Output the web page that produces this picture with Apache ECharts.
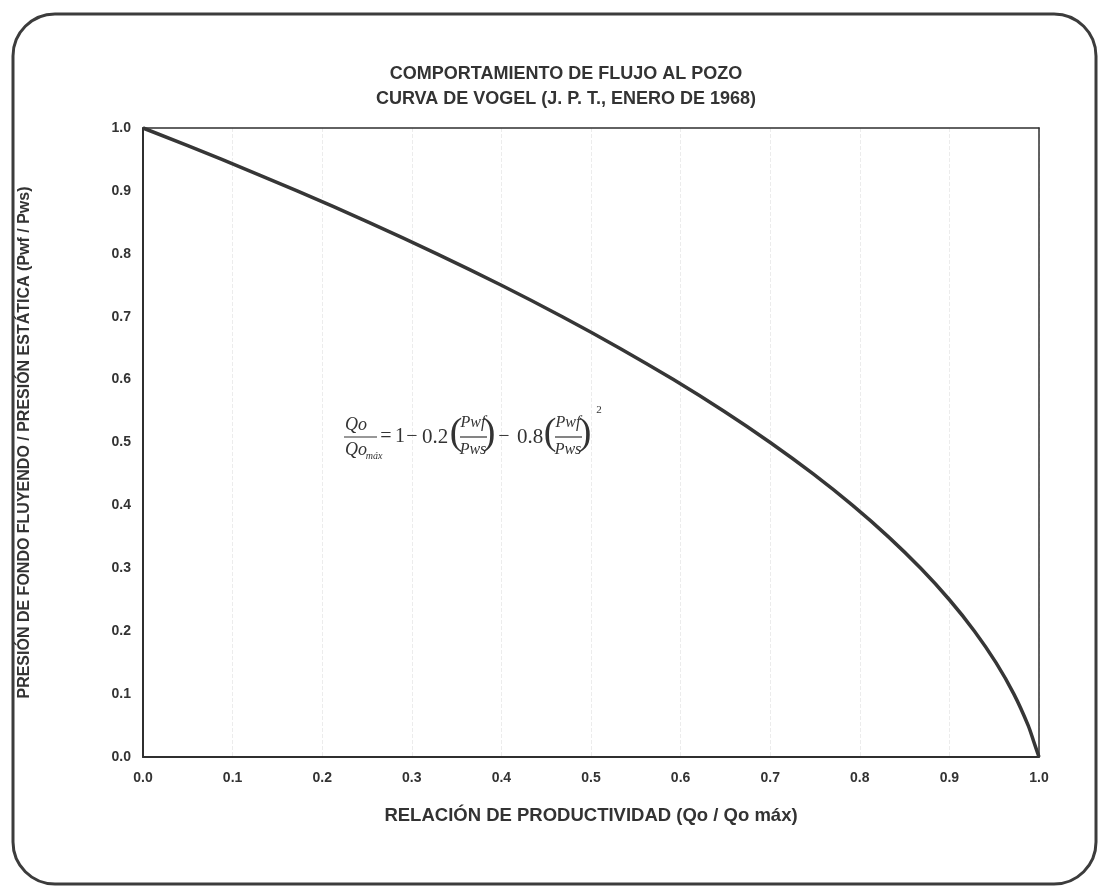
<!DOCTYPE html>
<html>
<head>
<meta charset="utf-8">
<script src="https://cdn.jsdelivr.net/npm/echarts@6/dist/echarts.min.js"></script>
<style>
html,body{margin:0;padding:0;background:#fff;}
#chart{width:1101px;height:889px;}
</style>
</head>
<body>
<div id="chart"></div>
<script>
// Values (Qo/Qomax vs Pwf/Pws)
const pressureRatio = [1.0, 0.95, 0.9, 0.85, 0.8, 0.75, 0.7, 0.65, 0.6, 0.55, 0.5, 0.45, 0.4, 0.35, 0.3, 0.25, 0.2, 0.15, 0.1, 0.05, 0.025, 0.0];
const productivityRatio = [0.0, 0.088, 0.172, 0.252, 0.328, 0.400, 0.468, 0.532, 0.592, 0.648, 0.700, 0.748, 0.792, 0.832, 0.868, 0.900, 0.928, 0.952, 0.972, 0.988, 0.994, 1.0];
const titleLines = ['COMPORTAMIENTO DE FLUJO AL POZO', 'CURVA DE VOGEL (J. P. T., ENERO DE 1968)'];
const xAxisName = 'RELACIÓN DE PRODUCTIVIDAD (Qo / Qo máx)';
const yAxisName = 'PRESIÓN DE FONDO FLUYENDO / PRESIÓN ESTÁTICA (Pwf / Pws)';

const seriesData = productivityRatio.map((x, i) => [x, pressureRatio[i]]);

const ink = '#333333';
const sans = '"Liberation Sans", Arial, sans-serif';
const serif = '"Liberation Serif", "Times New Roman", serif';

function txt(text, x, y, opts) {
  opts = opts || {};
  return {
    type: 'text', z: 100,
    style: {
      text: text, x: x, y: y,
      fill: ink,
      fontFamily: serif,
      fontSize: opts.size || 19,
      fontStyle: opts.italic ? 'italic' : 'normal',
      fontWeight: 'normal',
      align: opts.align || 'center', textAlign: opts.align || 'center',
      verticalAlign: 'middle', textVerticalAlign: 'middle'
    }
  };
}
function bar(x1, x2, y) {
  return { type: 'line', z: 100, shape: {x1: x1, y1: y, x2: x2, y2: y}, style: {stroke: ink, lineWidth: 1.2} };
}

const formula = [
  txt('Qo', 356, 425, {italic: true, size: 18}),
  bar(344, 377, 437),
  txt('Qo', 356, 450, {italic: true, size: 18}),
  txt('máx', 374, 456, {italic: true, size: 10}),
  txt('=', 386, 437, {size: 20}),
  txt('1', 400, 437, {size: 20}),
  txt('−', 412, 437, {size: 20}),
  txt('0.2', 435, 437, {size: 21}),
  txt('(', 456, 434, {size: 38}),
  txt('Pwf', 473, 423, {italic: true, size: 16}),
  bar(460, 487, 437),
  txt('Pws', 473, 450, {italic: true, size: 16}),
  txt(')', 489, 434, {size: 38}),
  txt('−', 504, 437, {size: 20}),
  txt('0.8', 530, 437, {size: 21}),
  txt('(', 550, 434, {size: 38}),
  txt('Pwf', 568, 423, {italic: true, size: 16}),
  bar(555, 582, 437),
  txt('Pws', 568, 450, {italic: true, size: 16}),
  txt(')', 585, 434, {size: 38}),
  txt('2', 599, 410, {size: 11})
];

const labelStyle = {fontFamily: sans, fontSize: 14, fontWeight: 'bold', color: ink};

const chart = echarts.init(document.getElementById('chart'));
chart.setOption({
  backgroundColor: '#ffffff',
  animation: false,
  title: {
    text: titleLines.join('\n'),
    left: 561, top: 57, textAlign: 'center',
    textStyle: {fontFamily: sans, fontSize: 18, fontWeight: 'bold', color: ink, lineHeight: 25}
  },
  grid: {
    left: 143, right: 62, top: 128, bottom: 132,
    show: false
  },
  xAxis: [{
    type: 'value', min: 0, max: 1, interval: 0.1,
    name: xAxisName, nameLocation: 'middle', nameGap: 49,
    nameTextStyle: {fontFamily: sans, fontSize: 18.5, fontWeight: 'bold', color: ink},
    axisLine: {show: true, onZero: false, lineStyle: {color: '#2f2f2f', width: 2}},
    axisTick: {show: false},
    splitLine: {show: true, lineStyle: {color: '#ececec', width: 1, type: 'dashed'}},
    axisLabel: Object.assign({margin: 14, formatter: v => v.toFixed(1)}, labelStyle)
  }, {
    type: 'value', min: 0, max: 1, interval: 0.1, position: 'top',
    axisLine: {show: true, onZero: false, lineStyle: {color: '#2f2f2f', width: 1.5}},
    axisTick: {show: false}, axisLabel: {show: false}, splitLine: {show: false}
  }],
  yAxis: [{
    type: 'value', min: 0, max: 1, interval: 0.1,
    name: yAxisName, nameLocation: 'middle', nameGap: 110, nameRotate: 90,
    nameTextStyle: {fontFamily: sans, fontSize: 16, fontWeight: 'bold', color: ink},
    axisLine: {show: true, onZero: false, lineStyle: {color: '#2f2f2f', width: 2}},
    axisTick: {show: false},
    splitLine: {show: false},
    axisLabel: Object.assign({margin: 12, formatter: v => v.toFixed(1)}, labelStyle)
  }, {
    type: 'value', min: 0, max: 1, interval: 0.1, position: 'right',
    axisLine: {show: true, onZero: false, lineStyle: {color: '#2f2f2f', width: 1.5}},
    axisTick: {show: false}, axisLabel: {show: false}, splitLine: {show: false}
  }],
  series: [{
    type: 'line',
    data: seriesData,
    smooth: 0.3,
    showSymbol: false,
    clip: false,
    lineStyle: {color: '#363636', width: 3.5}
  }],
  graphic: [
    {
      type: 'rect', z: 90,
      shape: {x: 13, y: 14, width: 1083, height: 870, r: 42},
      style: {fill: 'none', stroke: '#3c3c3c', lineWidth: 3}
    }
  ].concat(formula)
});
</script>
</body>
</html>
